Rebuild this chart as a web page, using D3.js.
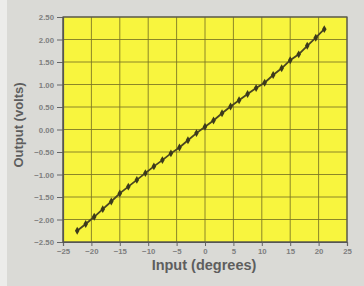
<!DOCTYPE html>
<html><head><meta charset="utf-8">
<script src="https://cdn.jsdelivr.net/npm/d3@7"></script>
<style>body{margin:0;background:#dcdcd8;}svg{display:block;}</style>
</head><body>
<svg id="c" width="364" height="286"></svg>
<script>
const inputDeg = [-22.5,-21,-19.5,-18,-16.5,-15,-13.5,-12,-10.5,-9,-7.5,-6,-4.5,-3,-1.5,0,1.5,3,4.5,6,7.5,9,10.5,12,13.5,15,16.5,18,19.5,21];
const outputVolts = [-2.25,-2.10,-1.94,-1.77,-1.60,-1.42,-1.27,-1.12,-0.97,-0.82,-0.68,-0.53,-0.40,-0.24,-0.08,0.06,0.20,0.36,0.51,0.65,0.79,0.92,1.04,1.21,1.36,1.54,1.67,1.86,2.04,2.23];
const xTicks = [-25,-20,-15,-10,-5,0,5,10,15,20,25];
const yTicks = [-2.5,-2.0,-1.5,-1.0,-0.5,0,0.5,1.0,1.5,2.0,2.5];
const xTitle = "Input (degrees)";
const yTitle = "Output (volts)";

const svg = d3.select("#c");
const m = {l:63, r:347, t:17, b:242};
const x = d3.scaleLinear().domain([-25,25]).range([m.l,m.r]);
const y = d3.scaleLinear().domain([-2.5,2.5]).range([m.b,m.t]);

// background
svg.append("rect").attr("width",364).attr("height",286).attr("fill","#dadad6");
svg.append("rect").attr("x",0).attr("y",0).attr("width",7).attr("height",286).attr("fill","#ececea");

// plot area
svg.append("rect").attr("x",m.l).attr("y",m.t).attr("width",m.r-m.l).attr("height",m.b-m.t).attr("fill","#f8f53e");

// grid
svg.append("g").selectAll("line").data(xTicks).join("line")
  .attr("x1",d=>x(d)).attr("x2",d=>x(d)).attr("y1",m.t).attr("y2",m.b)
  .attr("stroke","#7a7424").attr("stroke-width",1).attr("opacity",0.85);
svg.append("g").selectAll("line").data(yTicks).join("line")
  .attr("y1",d=>y(d)).attr("y2",d=>y(d)).attr("x1",m.l).attr("x2",m.r)
  .attr("stroke","#7a7424").attr("stroke-width",1).attr("opacity",0.85);

// axes
const fmtY = d3.format(".2f");
const ax = svg.append("g").attr("transform",`translate(0,${m.b})`)
  .call(d3.axisBottom(x).tickValues(xTicks).tickSize(4).tickPadding(2).tickFormat(d3.format("d")));
const ay = svg.append("g").attr("transform",`translate(${m.l},0)`)
  .call(d3.axisLeft(y).tickValues(yTicks).tickSize(6).tickPadding(3).tickFormat(d=>fmtY(d)));
[ax,ay].forEach(a=>{
  a.select(".domain").attr("stroke","#555").attr("stroke-width",1.2);
  a.selectAll(".tick line").attr("stroke","#666");
  a.selectAll("text").attr("fill","#7e7e7e").attr("font-family","Liberation Sans, Arial, sans-serif").attr("font-size",7.8).attr("font-weight","bold");
});

// plot border
svg.append("rect").attr("x",m.l).attr("y",m.t).attr("width",m.r-m.l).attr("height",m.b-m.t)
  .attr("fill","none").attr("stroke","#555").attr("stroke-width",1.2);

// series
const pts = inputDeg.map((d,i)=>[d,outputVolts[i]]);
svg.append("path").datum(pts)
  .attr("d",d3.line().x(d=>x(d[0])).y(d=>y(d[1])))
  .attr("fill","none").attr("stroke","#4a4620").attr("stroke-width",1.8);
svg.append("g").selectAll("path").data(pts).join("path")
  .attr("transform",d=>`translate(${x(d[0])},${y(d[1])})`)
  .attr("d",d3.symbol().type(d3.symbolDiamond).size(18))
  .attr("fill","#3c3a1c");

// titles
svg.append("text").attr("x",204).attr("y",270).attr("text-anchor","middle")
  .attr("font-family","Liberation Sans, Arial, sans-serif").attr("font-size",14.5).attr("font-weight","bold")
  .attr("fill","#5e5e5e").text(xTitle);
svg.append("text").attr("transform","translate(23,125) rotate(-90)").attr("text-anchor","middle")
  .attr("font-family","Liberation Sans, Arial, sans-serif").attr("font-size",13).attr("font-weight","bold")
  .attr("fill","#5e5e5e").text(yTitle);
</script>
</body></html>
